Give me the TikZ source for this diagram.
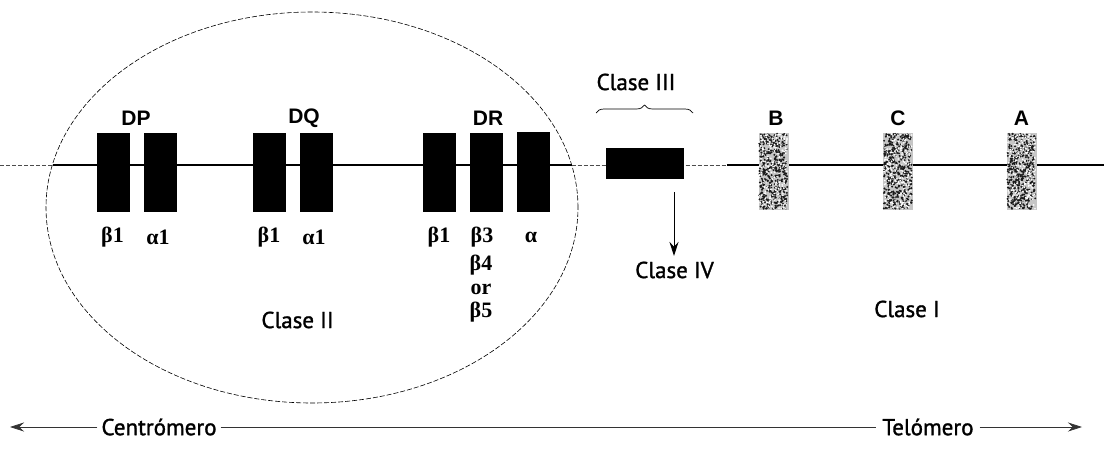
\documentclass[tikz,border=0pt]{standalone}
\usepackage{fontspec}
\setmainfont{Liberation Serif}
\newfontfamily\lblfont[FakeBold=1.3]{PT Sans}
\newfontfamily\genefont{Liberation Sans}
\usetikzlibrary{decorations.pathreplacing,arrows.meta,shapes.geometric,calc}
\begin{document}
\begin{tikzpicture}[x=1pt,y=-1pt,
  gene/.style={fill=black, draw=none, inner sep=0pt, minimum width=33pt, minimum height=79pt},
  shade/.style={fill=gray!45, draw=none, inner sep=0pt, minimum width=30pt, minimum height=77pt},
  glbl/.style={font=\genefont\bfseries\fontsize{21}{24}\selectfont, inner sep=0pt},
  grk/.style={font=\bfseries\fontsize{22}{24}\selectfont, inner sep=0pt},
  cls/.style={font=\lblfont\fontsize{23}{26}\selectfont, inner sep=0pt},
  chrom/.style={line width=1.8pt},
  faint/.style={line width=0.6pt, dash pattern=on 4pt off 2pt, black!70},
  axisline/.style={line width=0.7pt, black!80},
  arrowhd/.style={-{Stealth[length=14pt,width=9pt]}}
]
\useasboundingbox (0,0) rectangle (1104,455);

% ellipse (Clase II region)
\node[draw, dash pattern=on 5pt off 2pt, line width=0.6pt, shape=ellipse, minimum width=532pt, minimum height=391pt, inner sep=0pt] (reg) at (312,207.5) {};

% chromosome line
\coordinate (L0) at (0,165);
\coordinate (E1) at (52.5,165);
\coordinate (E2) at (571.5,165);
\coordinate (S1) at (727,165);
\coordinate (R0) at (1104,165);
\draw[faint] (L0) -- (E1);
\draw[chrom] (E1) -- (E2);
\draw[faint] (E2) -- (S1);
\draw[line width=1.4pt] (S1) -- (R0);

% Class II genes
\node[gene] (DPb1) at (113.3,172.2) {};
\node[gene] (DPa1) at (160.1,172.2) {};
\node[gene] (DQb1) at (269.5,172.2) {};
\node[gene] (DQa1) at (316,172.2) {};
\node[gene] (DRb1) at (439.5,172.2) {};
\node[gene] (DRb3) at (486.5,172.2) {};
\node[gene, minimum height=80pt] (DRa) at (533.3,171.5) {};

\node[glbl] (DP) at (136,118) {DP};
\node[glbl] (DQ) at (304,118) {DQ};
\node[glbl] (DR) at (488,118) {DR};

\node[grk] (lDPb1) at (112.5,237) {β1};
\node[grk] (lDPa1) at (158,237) {α1};
\node[grk] (lDQb1) at (269,237) {β1};
\node[grk] (lDQa1) at (314,237) {α1};
\node[grk] (lDRb1) at (439,237) {β1};
\node[grk] (lDRb3) at (482,237) {β3};
\node[grk] (lDRb4) at (481,265) {β4};
\node[grk] (lDRor) at (481,289) {or};
\node[grk] (lDRb5) at (481,312) {β5};
\node[grk] (lDRa) at (531,237) {α};

\node[cls] (c2) at (297.5,320) {Clase II};

% Class III
\node[gene, minimum width=78pt, minimum height=31pt] (C3) at (645,163.5) {};
\coordinate (brL) at (596,113);
\coordinate (brR) at (693,113);
\draw[line width=0.7pt, decorate, decoration={brace, amplitude=8pt}] (brL) -- (brR);
\node[cls] (c3) at (636,82) {Clase III};
\coordinate (arS) at (674,192);
\coordinate (arE) at (674,256);
\node[cls] (c4) at (674.5,270) {Clase IV};
\draw[line width=1pt, arrowhd] (arS) -- (arE);

% Class I genes
\node[shade] (B) at (773.5,171.5) {};
\node[shade] (C) at (898,171.5) {};
\node[shade] (A) at (1021.5,171.5) {};
\pgfmathsetseed{7}
\foreach \g in {B,C,A}{
  \foreach \i in {1,...,420}{
    \fill[black!90] ($(\g.north west)+(1+rnd*28,1+rnd*75)$) circle (1.1pt);
  }
  \foreach \i in {1,...,200}{
    \fill[white] ($(\g.north west)+(1+rnd*28,1+rnd*75)$) circle (0.9pt);
  }
}
\node[glbl] (lB) at (776,118) {B};
\node[glbl] (lC) at (898,118) {C};
\node[glbl] (lA) at (1021.5,118) {A};
\node[cls] (c1) at (907,309) {Clase I};

% bottom axis
\node[cls] (cen) at (159,427) {Centrómero};
\node[cls] (tel) at (928,427) {Telómero};
\coordinate (aL) at (10,427);
\coordinate (aR) at (1082,427);
\draw[axisline, arrowhd] ([xshift=-4pt]cen.west) -- (aL);
\draw[axisline] ([xshift=4pt]cen.east) -- ([xshift=-6pt]tel.west);
\draw[axisline, arrowhd] ([xshift=6pt]tel.east) -- (aR);
\end{tikzpicture}
\end{document}
